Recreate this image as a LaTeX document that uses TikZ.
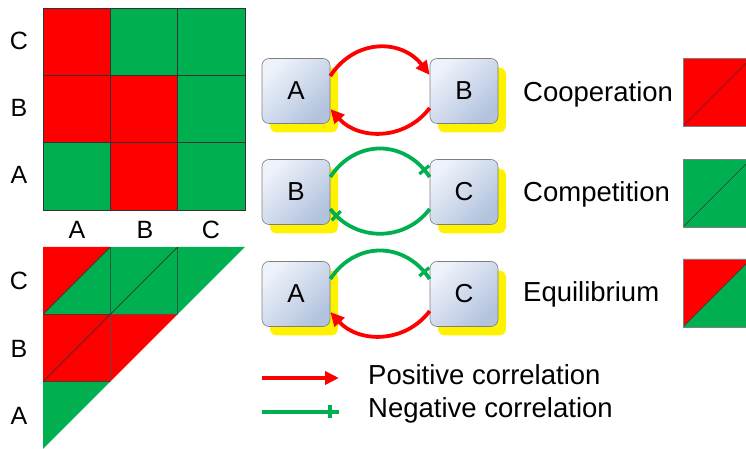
\documentclass[tikz,border=0pt]{standalone}
\usepackage{fontspec}
\setmainfont{Liberation Sans}
\usetikzlibrary{arrows.meta,shadows,decorations.markings}
\definecolor{myred}{HTML}{FF0000}
\definecolor{mygreen}{HTML}{00B050}
\definecolor{boxlight}{HTML}{EEF2FA}
\definecolor{boxdark}{HTML}{B2C3DE}
\definecolor{boxline}{HTML}{7F7F7F}
\begin{document}
\begin{tikzpicture}[x=1pt,y=1pt,
 cell/.style={draw=black!80, line width=0.6pt},
 lab/.style={font=\fontsize{25}{25}\selectfont, anchor=base, inner sep=0pt},
 txt/.style={font=\fontsize{27.5}{28}\selectfont, anchor=base west, inner sep=0pt},
 sp/.style={rectangle, rounded corners=7pt, minimum width=68pt, minimum height=65pt,
   draw=boxline, line width=0.6pt, top color=boxlight, bottom color=boxdark, shading angle=45,
   font=\fontsize{26}{26}\selectfont,
   drop shadow={fill=yellow, opacity=1, shadow xshift=8pt, shadow yshift=-9pt}},
 posarrow/.style={draw=myred, line width=3.8pt, -{Triangle[length=14pt,width=13pt]}},
 negline/.style={draw=mygreen, line width=3.8pt, postaction={decorate},
   decoration={markings, mark=at position -9pt with {\draw[mygreen, line width=3.2pt] (0,-6.5pt) -- (0,6.5pt);}}},
]
\useasboundingbox (0,0) rectangle (746,449);
\clip (0,0) rectangle (746,449);

% ---------- top grid ----------
\fill[myred]   (43,373.67) rectangle (110.33,441);
\fill[mygreen] (110.33,373.67) rectangle (177.67,441);
\fill[mygreen] (177.67,373.67) rectangle (245,441);
\fill[myred]   (43,306.33) rectangle (110.33,373.67);
\fill[myred]   (110.33,306.33) rectangle (177.67,373.67);
\fill[mygreen] (177.67,306.33) rectangle (245,373.67);
\fill[mygreen] (43,239) rectangle (110.33,306.33);
\fill[myred]   (110.33,239) rectangle (177.67,306.33);
\fill[mygreen] (177.67,239) rectangle (245,306.33);
\draw[cell] (43,239) rectangle (245,441);
\draw[cell] (110.33,239) -- (110.33,441) (177.67,239) -- (177.67,441)
            (43,306.33) -- (245,306.33) (43,373.67) -- (245,373.67);

\node[lab] (gc) at (19,399) {C};
\node[lab] (gb) at (19,332) {B};
\node[lab] (ga) at (19,265) {A};
\node[lab] (xa) at (77,210) {A};
\node[lab] (xb) at (145,210) {B};
\node[lab] (xc) at (211,210) {C};

% ---------- bottom triangle ----------
\fill[myred]   (43,134.67) -- (43,202) -- (110.33,202) -- cycle;
\fill[mygreen] (43,134.67) -- (110.33,134.67) -- (110.33,202) -- cycle;
\fill[mygreen] (110.33,134.67) rectangle (177.67,202);
\fill[mygreen] (177.67,134.67) -- (177.67,202) -- (245,202) -- cycle;
\fill[myred]   (43,67.33) rectangle (110.33,134.67);
\fill[myred]   (110.33,67.33) -- (110.33,134.67) -- (177.67,134.67) -- cycle;
\fill[mygreen] (43,0) -- (43,67.33) -- (110.33,67.33) -- cycle;
\draw[cell] (43,134.67) -- (110.33,202)
            (43,67.33) -- (177.67,202)
            (110.33,134.67) -- (110.33,202) (177.67,134.67) -- (177.67,202)
            (43,134.67) -- (177.67,134.67)
            (110.33,67.33) -- (110.33,134.67)
            (43,67.33) -- (110.33,67.33);

\node[lab] (tc) at (19,159) {C};
\node[lab] (tb) at (19,91) {B};
\node[lab] (ta) at (19,24) {A};

% ---------- interaction nodes ----------
\node[sp] (a1) at (296,358) {A};
\node[sp] (b1) at (464,358) {B};
\node[sp] (b2) at (296,257) {B};
\node[sp] (c2) at (464,257) {C};
\node[sp] (a3) at (296,155) {A};
\node[sp] (c3) at (464,155) {C};

\draw[posarrow] ([yshift=15pt]a1.east) .. controls +(25,38) and +(-28,36) .. ([yshift=16pt]b1.west);
\draw[posarrow] ([yshift=-17pt]b1.west) .. controls +(-25,-33) and +(28,-31) .. ([yshift=-18pt]a1.east);

\draw[negline] ([yshift=15pt]b2.east) .. controls +(25,38) and +(-25,38) .. ([yshift=15pt]c2.west);
\draw[negline] ([yshift=-17pt]c2.west) .. controls +(-25,-33) and +(25,-33) .. ([yshift=-17pt]b2.east);

\draw[negline] ([yshift=15pt]a3.east) .. controls +(25,38) and +(-25,38) .. ([yshift=15pt]c3.west);
\draw[posarrow] ([yshift=-17pt]c3.west) .. controls +(-25,-33) and +(28,-31) .. ([yshift=-18pt]a3.east);

% ---------- legend texts ----------
\node[txt] (coop) at (523,347) {Cooperation};
\node[txt] (comp) at (523,247) {Competition};
\node[txt] (equi) at (523,147) {Equilibrium};

% ---------- legend squares ----------
\fill[myred] (683,323) rectangle (751,391);
\draw[cell, line width=0.4pt] (683,323) -- (751,391);
\draw[boxline, line width=0.6pt] (683,323) rectangle (751,391);

\fill[mygreen] (683,222) rectangle (751,290);
\draw[cell, line width=0.4pt] (683,222) -- (751,290);
\draw[boxline, line width=0.6pt] (683,222) rectangle (751,290);

\fill[myred] (683,122) -- (683,190) -- (751,190) -- cycle;
\fill[mygreen] (683,122) -- (751,122) -- (751,190) -- cycle;
\draw[cell, line width=0.4pt] (683,122) -- (751,190);
\draw[boxline, line width=0.6pt] (683,122) rectangle (751,190);

% ---------- correlation legend ----------
\coordinate (p0) at (262,71);
\coordinate (p1) at (339,71);
\coordinate (n0) at (262,37);
\coordinate (n1) at (339,37);
\draw[posarrow] (p0) -- (p1);
\draw[negline] (n0) -- (n1);
\node[txt] (post) at (368,64) {Positive correlation};
\node[txt] (negt) at (368,31) {Negative correlation};
\end{tikzpicture}
\end{document}
